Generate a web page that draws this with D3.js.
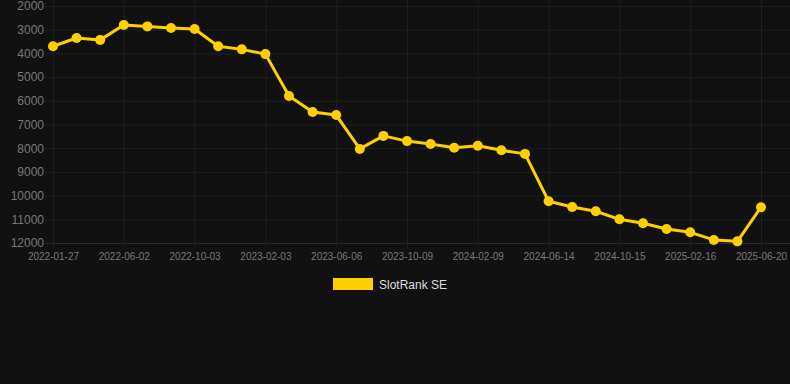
<!DOCTYPE html>
<html>
<head>
<meta charset="utf-8">
<script src="https://cdn.jsdelivr.net/npm/d3@7"></script>
<style>
  html, body { margin: 0; padding: 0; background: #111111; }
  svg { display: block; font-family: "Liberation Sans", Arial, sans-serif; }
</style>
</head>
<body>
<div id="chart"></div>
<script>
const lineColor = "#FFD000";
const gridColor = "#1f1f1f";
const axisColor = "#2a2a2a";
const tickTextColor = "#777777";
const legendTextColor = "#dddddd";

const dates = [
  "2022-01-27", "2022-03-10", "2022-04-21", "2022-06-02", "2022-07-13", "2022-08-23",
  "2022-10-03", "2022-11-13", "2022-12-24", "2023-02-03", "2023-03-18", "2023-04-27",
  "2023-06-06", "2023-07-18", "2023-08-28", "2023-10-09", "2023-11-19", "2023-12-30",
  "2024-02-09", "2024-03-21", "2024-05-03", "2024-06-14", "2024-07-25", "2024-09-04",
  "2024-10-15", "2024-11-25", "2025-01-06", "2025-02-16", "2025-03-29", "2025-05-09",
  "2025-06-20"
];
const ranks = [
  3700, 3350, 3430, 2800, 2860, 2930,
  2970, 3700, 3830, 4030, 5800, 6470,
  6600, 8030, 7480, 7700, 7820, 7980,
  7900, 8090, 8240, 10240, 10480, 10660,
  11000, 11170, 11410, 11550, 11870, 11930,
  10490
];
const yTicks = [2000, 3000, 4000, 5000, 6000, 7000, 8000, 9000, 10000, 11000, 12000];
const seriesName = "SlotRank SE";

const width = 790;
const height = 384;
const plot = { left: 53, right: 761, top: 6, bottom: 243 };

const svg = d3.select("#chart")
  .append("svg")
  .attr("width", width)
  .attr("height", height);

const x = d3.scalePoint()
  .domain(dates)
  .range([plot.left, plot.right]);

// rank axis is reversed: best rank at the top
const y = d3.scaleLinear()
  .domain([2000, 12000])
  .range([plot.top, plot.bottom]);

// horizontal grid
const yGrid = svg.append("g")
  .attr("transform", `translate(${plot.left - 8},0)`)
  .call(d3.axisRight(y).tickValues(yTicks).tickSize(width - plot.left + 8).tickFormat(""));
yGrid.select(".domain").remove();
yGrid.selectAll(".tick line")
  .attr("stroke", d => d === 12000 ? axisColor : gridColor);

// vertical grid, every third label
const xLabels = dates.filter((d, i) => i % 3 === 0);
const xGrid = svg.append("g")
  .attr("transform", `translate(0,${plot.bottom + 5})`)
  .call(d3.axisTop(x).tickValues(xLabels).tickSize(plot.bottom + 5 - plot.top + 10).tickFormat(""));
xGrid.select(".domain").remove();
xGrid.selectAll(".tick line").attr("stroke", gridColor);

// y labels
const yAxis = svg.append("g")
  .attr("transform", `translate(${plot.left - 9},0)`)
  .call(d3.axisLeft(y).tickValues(yTicks).tickSize(0).tickPadding(0).tickFormat(d3.format("d")));
yAxis.select(".domain").remove();
yAxis.selectAll("text")
  .attr("fill", tickTextColor)
  .style("font-size", "12px")
  .style("font-family", "Liberation Sans, Arial, sans-serif");

// x labels
const xAxis = svg.append("g")
  .attr("transform", `translate(0,${plot.bottom + 10})`)
  .call(d3.axisBottom(x).tickValues(xLabels).tickSize(0).tickPadding(0));
xAxis.select(".domain").remove();
xAxis.selectAll("text")
  .attr("fill", tickTextColor)
  .style("font-size", "10px")
  .style("font-family", "Liberation Sans, Arial, sans-serif");

// line
const line = d3.line()
  .x((d, i) => x(dates[i]))
  .y(d => y(d));

svg.append("path")
  .datum(ranks)
  .attr("fill", "none")
  .attr("stroke", lineColor)
  .attr("stroke-width", 3)
  .attr("stroke-linejoin", "round")
  .attr("d", line);

svg.selectAll(".point")
  .data(ranks)
  .enter()
  .append("circle")
  .attr("class", "point")
  .attr("cx", (d, i) => x(dates[i]))
  .attr("cy", d => y(d))
  .attr("r", 5)
  .attr("fill", lineColor);

// legend
const legend = svg.append("g").attr("transform", "translate(333,278)");
legend.append("rect")
  .attr("width", 40)
  .attr("height", 12)
  .attr("fill", lineColor);
legend.append("text")
  .attr("x", 46)
  .attr("y", 11)
  .attr("fill", legendTextColor)
  .style("font-size", "12px")
  .text(seriesName);
</script>
</body>
</html>
